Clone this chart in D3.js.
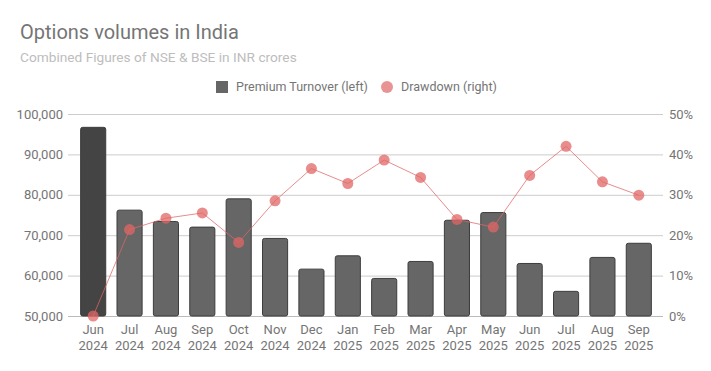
<!DOCTYPE html>
<html>
<head>
<meta charset="utf-8">
<script src="https://cdn.jsdelivr.net/npm/d3@7"></script>
<style>
  body { margin: 0; background: #fff; }
  svg { font-family: Roboto, sans-serif; }
</style>
</head>
<body>
<script>
var width = 711
var height = 371

var months = ['Jun', 'Jul', 'Aug', 'Sep', 'Oct', 'Nov', 'Dec', 'Jan', 'Feb', 'Mar', 'Apr', 'May', 'Jun', 'Jul', 'Aug', 'Sep']
var years = ['2024', '2024', '2024', '2024', '2024', '2024', '2024', '2025', '2025', '2025', '2025', '2025', '2025', '2025', '2025', '2025']
var premium = [96700, 76200, 73400, 72000, 79000, 69200, 61600, 64900, 59300, 63500, 73700, 75600, 63000, 56100, 64500, 68000]
var drawdown = [0, 21.4, 24.2, 25.5, 18.2, 28.5, 36.5, 32.8, 38.6, 34.3, 23.9, 22.0, 34.8, 42.0, 33.2, 29.9]
var leftTicks = [50000, 60000, 70000, 80000, 90000, 100000]
var rightTicks = [0, 10, 20, 30, 40, 50]

var keys = months.map(function (d, i) { return i })

var svg = d3.select('body').append('svg')
    .attr('width', width)
    .attr('height', height)

var x = d3.scaleBand()
    .domain(keys)
    .range([75, 657])
    .paddingInner(0.31)
    .paddingOuter(0.155)

var y = d3.scaleLinear()
    .domain([50000, 100000])
    .range([316, 114])

var y2 = d3.scaleLinear()
    .domain([0, 50])
    .range([316, 114])

// titles
svg.append('text')
    .attr('x', 20).attr('y', 39)
    .style('font-size', '20px')
    .style('fill', '#757575')
    .text('Options volumes in India')

svg.append('text')
    .attr('x', 20).attr('y', 62)
    .style('font-size', '13.7px')
    .style('fill', '#bdbdbd')
    .text('Combined Figures of NSE & BSE in INR crores')

// legend
var legend = svg.append('g').style('font-size', '12.5px').style('fill', '#757575')
legend.append('rect')
    .attr('x', 216).attr('y', 81).attr('width', 12).attr('height', 12)
    .style('fill', '#666')
legend.append('text').attr('x', 236).attr('y', 91).text('Premium Turnover (left)')
legend.append('circle')
    .attr('cx', 387).attr('cy', 87).attr('r', 6)
    .style('fill', '#e06666').style('opacity', 0.7)
legend.append('text').attr('x', 401).attr('y', 91).text('Drawdown (right)')

// grid
svg.append('g')
    .attr('transform', 'translate(68,0)')
    .call(d3.axisLeft(y).tickValues(leftTicks).tickSize(-595).tickFormat(''))
    .call(function (g) {
      g.select('.domain').remove()
      g.selectAll('line').style('stroke', '#cccccc')
      g.selectAll('.tick').filter(function (d) { return d === 50000 }).select('line').style('stroke', '#bbbbbb')
    })

// left axis labels
svg.append('g')
    .attr('transform', 'translate(68,0)')
    .call(d3.axisLeft(y).tickValues(leftTicks).tickSize(0).tickPadding(5).tickFormat(d3.format(',')))
    .call(function (g) {
      g.select('.domain').remove()
      g.selectAll('text').style('font-size', '13px').style('fill', '#757575').style('font-family', 'Roboto, sans-serif')
    })

// right axis labels
svg.append('g')
    .attr('transform', 'translate(663,0)')
    .call(d3.axisRight(y2).tickValues(rightTicks).tickSize(0).tickPadding(6).tickFormat(function (d) { return d + '%' }))
    .call(function (g) {
      g.select('.domain').remove()
      g.selectAll('text').style('font-size', '13px').style('fill', '#757575').style('font-family', 'Roboto, sans-serif')
    })

// x labels
var xl = svg.append('g').style('font-size', '13px').style('fill', '#757575')
xl.selectAll('text.m')
    .data(keys)
  .enter().append('text')
    .attr('class', 'm')
    .attr('x', function (d) { return x(d) + x.bandwidth() / 2 })
    .attr('y', 334)
    .attr('text-anchor', 'middle')
    .text(function (d) { return months[d] })
xl.selectAll('text.yr')
    .data(keys)
  .enter().append('text')
    .attr('class', 'yr')
    .attr('x', function (d) { return x(d) + x.bandwidth() / 2 })
    .attr('y', 350)
    .attr('text-anchor', 'middle')
    .text(function (d) { return years[d] })

// bars
svg.selectAll('rect.bar')
    .data(keys)
  .enter().append('rect')
    .attr('class', 'bar')
    .attr('x', function (d) { return x(d) })
    .attr('y', function (d) { return y(premium[d]) })
    .attr('width', x.bandwidth())
    .attr('height', function (d) { return y(50000) - y(premium[d]) })
    .attr('rx', 2)
    .style('fill', function (d) { return d === 0 ? '#444444' : '#666666' })
    .style('stroke', '#3d3d3d')
    .style('stroke-width', 1)

// line
var line = d3.line()
    .x(function (d) { return x(d) + x.bandwidth() / 2 })
    .y(function (d) { return y2(drawdown[d]) })

svg.append('path')
    .datum(keys)
    .attr('d', line)
    .style('fill', 'none')
    .style('stroke', '#e06666')
    .style('stroke-opacity', 0.75)
    .style('stroke-width', 1)

svg.selectAll('circle.pt')
    .data(keys)
  .enter().append('circle')
    .attr('class', 'pt')
    .attr('cx', function (d) { return x(d) + x.bandwidth() / 2 })
    .attr('cy', function (d) { return y2(drawdown[d]) })
    .attr('r', 5.5)
    .style('fill', '#e06666')
    .style('opacity', 0.75)
</script>
</body>
</html>
